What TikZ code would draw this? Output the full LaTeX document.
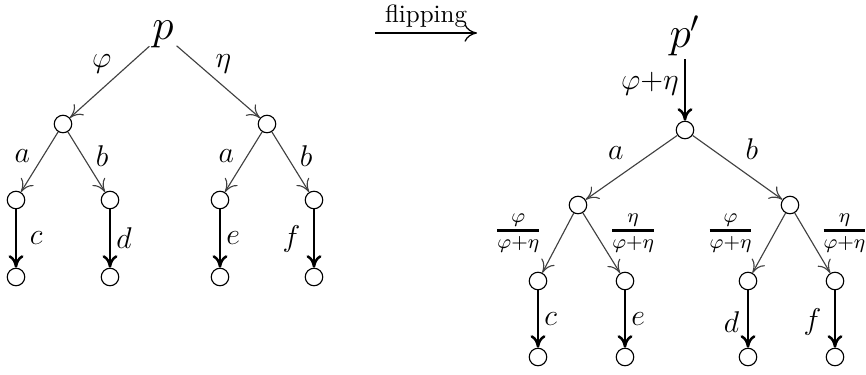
\documentclass[tikz,border=0pt]{standalone}
\usepackage{amsmath}
\usetikzlibrary{arrows.meta}
\begin{document}
\begin{tikzpicture}[x=0.4pt,y=-0.4pt,
  vtx/.style={circle,draw,line width=0.45pt,minimum size=7pt,inner sep=0pt},
  root/.style={inner sep=1pt,font=\LARGE},
  thin edge/.style={draw=black!75,line width=0.45pt,-{To[length=5pt,width=6pt]}},
  thick edge/.style={draw=black,line width=1pt,-{To[length=5pt,width=6pt]}},
  lbl/.style={font=\large,inner sep=2pt},
  frac/.style={font=\large,inner sep=1pt}]
\useasboundingbox (0,0) rectangle (866,374);
% left tree
\node[root] (p) at (163,34) {$p$};
\node[vtx] (L) at (63,124) {};
\node[vtx] (R) at (267,124) {};
\node[vtx] (LL) at (16,200) {};
\node[vtx] (LR) at (110,200) {};
\node[vtx] (RL) at (220,200) {};
\node[vtx] (RR) at (314,200) {};
\node[vtx] (LLl) at (16,277) {};
\node[vtx] (LRl) at (110,277) {};
\node[vtx] (RLl) at (220,277) {};
\node[vtx] (RRl) at (314,277) {};
\draw[thin edge] (p) -- node[lbl,pos=0.25,left=5pt] {$\varphi$} (L);
\draw[thin edge] (p) -- node[lbl,pos=0.25,right=5pt] {$\eta$} (R);
\draw[thin edge] (L) -- node[lbl,pos=0.4,left=3pt] {$a$} (LL);
\draw[thin edge] (L) -- node[lbl,pos=0.4,right=3pt] {$b$} (LR);
\draw[thin edge] (R) -- node[lbl,pos=0.4,left=3pt] {$a$} (RL);
\draw[thin edge] (R) -- node[lbl,pos=0.4,right=3pt] {$b$} (RR);
\draw[thick edge] (LL) -- node[lbl,pos=0.5,right=3pt] {$c$} (LLl);
\draw[thick edge] (LR) -- node[lbl,pos=0.5,right=0pt] {$d$} (LRl);
\draw[thick edge] (RL) -- node[lbl,pos=0.5,right=0pt] {$e$} (RLl);
\draw[thick edge] (RR) -- node[lbl,pos=0.5,left=3pt] {$f$} (RRl);
% flipping arrow
\coordinate (fa) at (375,33);
\coordinate (fb) at (477,33);
\draw[line width=0.5pt,-{To[length=5pt,width=7pt]}] (fa) -- node[above=1pt,font=\normalsize,inner sep=1pt] {flipping} (fb);
% right tree
\node[root] (q) at (685,36) {$p'$};
\node[vtx] (M) at (685,130) {};
\node[vtx] (A) at (578,205) {};
\node[vtx] (B) at (790,205) {};
\node[vtx] (A1) at (538,281) {};
\node[vtx] (A2) at (625,281) {};
\node[vtx] (B1) at (748,281) {};
\node[vtx] (B2) at (835,281) {};
\node[vtx] (A1l) at (538,357) {};
\node[vtx] (A2l) at (625,357) {};
\node[vtx] (B1l) at (748,357) {};
\node[vtx] (B2l) at (835,357) {};
\draw[thick edge] (q) -- node[lbl,pos=0.4,left=0pt] {$\varphi{+}\eta$} (M);
\draw[thin edge] (M) -- node[lbl,pos=0.5,above left=1pt] {$a$} (A);
\draw[thin edge] (M) -- node[lbl,pos=0.5,above right=1pt] {$b$} (B);
\draw[thin edge] (A) -- node[frac,pos=0.33,xshift=-18pt] {$\genfrac{}{}{1.1pt}{}{\varphi}{\varphi{+}\eta}$} (A1);
\draw[thin edge] (A) -- node[frac,pos=0.33,xshift=15.2pt] {$\genfrac{}{}{1.1pt}{}{\eta}{\varphi{+}\eta}$} (A2);
\draw[thin edge] (B) -- node[frac,pos=0.33,xshift=-17.6pt] {$\genfrac{}{}{1.1pt}{}{\varphi}{\varphi{+}\eta}$} (B1);
\draw[thin edge] (B) -- node[frac,pos=0.33,xshift=15.2pt] {$\genfrac{}{}{1.1pt}{}{\eta}{\varphi{+}\eta}$} (B2);
\draw[thick edge] (A1) -- node[lbl,pos=0.5,right=0pt] {$c$} (A1l);
\draw[thick edge] (A2) -- node[lbl,pos=0.5,right=0pt] {$e$} (A2l);
\draw[thick edge] (B1) -- node[lbl,pos=0.55,left=1pt] {$d$} (B1l);
\draw[thick edge] (B2) -- node[lbl,pos=0.55,left=3pt] {$f$} (B2l);
\end{tikzpicture}
\end{document}
